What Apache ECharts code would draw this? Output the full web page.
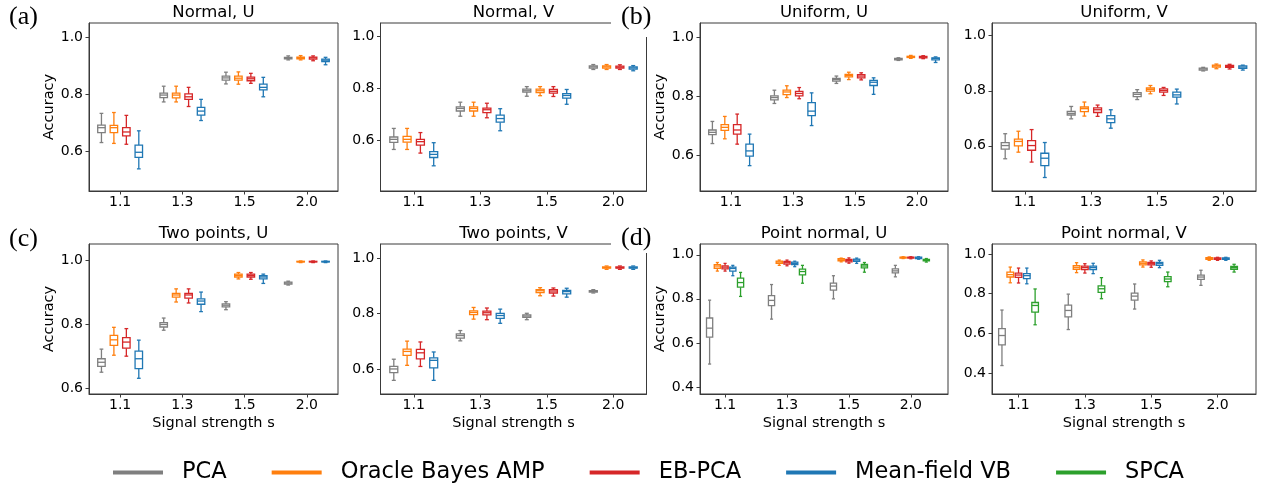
<!DOCTYPE html>
<html>
<head>
<meta charset="utf-8">
<script src="https://cdn.jsdelivr.net/npm/echarts@6/dist/echarts.min.js"></script>
<style>
  html, body { margin: 0; padding: 0; background: #fff; }
  #chart { width: 1261px; height: 488px; }
</style>
</head>
<body>
<div id="chart"></div>
<script>
const categories = ['1.1', '1.3', '1.5', '2.0']
const methods = ['PCA', 'Oracle Bayes AMP', 'EB-PCA', 'Mean-field VB', 'SPCA']
const colors = ['#7f7f7f', '#ff7f0e', '#d62728', '#1f77b4', '#2ca02c']

// box = [lower whisker, q1, median, q3, upper whisker], one box per s, one row per method
const normalU = [
  [[0.632, 0.667, 0.684, 0.693, 0.734], [0.774, 0.789, 0.798, 0.805, 0.829], [0.837, 0.850, 0.858, 0.864, 0.878], [0.921, 0.925, 0.928, 0.930, 0.935]],
  [[0.629, 0.667, 0.684, 0.692, 0.737], [0.774, 0.788, 0.798, 0.805, 0.829], [0.836, 0.850, 0.857, 0.864, 0.879], [0.921, 0.925, 0.929, 0.931, 0.936]],
  [[0.626, 0.655, 0.669, 0.684, 0.727], [0.758, 0.783, 0.792, 0.802, 0.825], [0.839, 0.848, 0.855, 0.861, 0.874], [0.918, 0.924, 0.928, 0.931, 0.935]],
  [[0.540, 0.580, 0.598, 0.623, 0.673], [0.709, 0.728, 0.742, 0.755, 0.783], [0.792, 0.816, 0.825, 0.836, 0.860], [0.904, 0.915, 0.920, 0.924, 0.930]]
]
const normalV = [
  [[0.564, 0.591, 0.603, 0.612, 0.645], [0.692, 0.712, 0.722, 0.728, 0.746], [0.769, 0.785, 0.790, 0.796, 0.806], [0.872, 0.877, 0.882, 0.886, 0.891]],
  [[0.564, 0.592, 0.603, 0.614, 0.645], [0.692, 0.712, 0.722, 0.728, 0.746], [0.771, 0.783, 0.790, 0.796, 0.806], [0.872, 0.877, 0.882, 0.886, 0.891]],
  [[0.550, 0.581, 0.594, 0.603, 0.629], [0.686, 0.706, 0.717, 0.723, 0.742], [0.768, 0.781, 0.788, 0.795, 0.806], [0.872, 0.877, 0.881, 0.885, 0.890]],
  [[0.501, 0.533, 0.545, 0.556, 0.590], [0.636, 0.669, 0.683, 0.696, 0.721], [0.738, 0.762, 0.772, 0.779, 0.795], [0.867, 0.873, 0.878, 0.882, 0.887]]
]
const uniformU = [
  [[0.641, 0.671, 0.679, 0.687, 0.716], [0.777, 0.789, 0.797, 0.803, 0.822], [0.845, 0.853, 0.858, 0.862, 0.870], [0.923, 0.925, 0.927, 0.930, 0.932]],
  [[0.657, 0.686, 0.696, 0.705, 0.733], [0.797, 0.807, 0.816, 0.822, 0.837], [0.858, 0.867, 0.872, 0.876, 0.883], [0.930, 0.933, 0.935, 0.937, 0.940]],
  [[0.639, 0.673, 0.687, 0.705, 0.741], [0.793, 0.803, 0.811, 0.818, 0.831], [0.857, 0.864, 0.870, 0.875, 0.881], [0.929, 0.932, 0.934, 0.937, 0.939]],
  [[0.566, 0.598, 0.616, 0.639, 0.673], [0.702, 0.736, 0.751, 0.780, 0.813], [0.808, 0.838, 0.849, 0.855, 0.864], [0.916, 0.925, 0.930, 0.932, 0.935]]
]
const uniformV = [
  [[0.553, 0.588, 0.601, 0.612, 0.644], [0.698, 0.712, 0.718, 0.725, 0.743], [0.768, 0.779, 0.787, 0.793, 0.804], [0.872, 0.875, 0.879, 0.882, 0.885]],
  [[0.577, 0.600, 0.616, 0.624, 0.653], [0.708, 0.724, 0.735, 0.741, 0.759], [0.789, 0.799, 0.805, 0.810, 0.819], [0.880, 0.886, 0.890, 0.893, 0.897]],
  [[0.541, 0.584, 0.601, 0.619, 0.659], [0.707, 0.721, 0.731, 0.738, 0.748], [0.783, 0.795, 0.801, 0.807, 0.812], [0.879, 0.885, 0.888, 0.892, 0.896]],
  [[0.485, 0.528, 0.555, 0.573, 0.612], [0.664, 0.684, 0.698, 0.710, 0.731], [0.752, 0.777, 0.785, 0.795, 0.806], [0.875, 0.881, 0.886, 0.890, 0.893]]
]
const twoPointsU = [
  [[0.650, 0.668, 0.681, 0.692, 0.722], [0.781, 0.791, 0.799, 0.805, 0.819], [0.845, 0.854, 0.859, 0.863, 0.870], [0.922, 0.925, 0.928, 0.931, 0.934]],
  [[0.703, 0.734, 0.751, 0.765, 0.790], [0.869, 0.884, 0.891, 0.896, 0.910], [0.941, 0.947, 0.952, 0.956, 0.961], [0.992, 0.994, 0.995, 0.996, 0.997]],
  [[0.700, 0.725, 0.744, 0.758, 0.786], [0.866, 0.881, 0.891, 0.896, 0.910], [0.940, 0.947, 0.952, 0.956, 0.961], [0.992, 0.994, 0.995, 0.996, 0.997]],
  [[0.631, 0.661, 0.692, 0.716, 0.750], [0.839, 0.862, 0.872, 0.879, 0.900], [0.927, 0.941, 0.947, 0.951, 0.956], [0.992, 0.994, 0.995, 0.996, 0.997]]
]
const twoPointsV = [
  [[0.560, 0.588, 0.601, 0.610, 0.636], [0.702, 0.712, 0.721, 0.727, 0.739], [0.778, 0.786, 0.791, 0.795, 0.801], [0.874, 0.877, 0.880, 0.882, 0.886]],
  [[0.614, 0.650, 0.664, 0.672, 0.701], [0.780, 0.796, 0.804, 0.810, 0.822], [0.864, 0.875, 0.882, 0.886, 0.893], [0.959, 0.963, 0.965, 0.968, 0.971]],
  [[0.610, 0.637, 0.659, 0.671, 0.698], [0.778, 0.795, 0.803, 0.809, 0.820], [0.863, 0.874, 0.881, 0.886, 0.892], [0.959, 0.963, 0.965, 0.968, 0.971]],
  [[0.560, 0.605, 0.632, 0.641, 0.662], [0.765, 0.783, 0.793, 0.801, 0.816], [0.859, 0.871, 0.879, 0.883, 0.891], [0.959, 0.963, 0.965, 0.968, 0.971]]
]
const pointNormalU = [
  [[0.504, 0.626, 0.667, 0.713, 0.794], [0.708, 0.769, 0.793, 0.815, 0.865], [0.800, 0.840, 0.858, 0.871, 0.905], [0.900, 0.918, 0.927, 0.936, 0.952]],
  [[0.926, 0.939, 0.949, 0.955, 0.965], [0.952, 0.961, 0.967, 0.971, 0.976], [0.968, 0.973, 0.977, 0.982, 0.985], [0.983, 0.985, 0.988, 0.989, 0.991]],
  [[0.926, 0.936, 0.944, 0.950, 0.961], [0.950, 0.958, 0.964, 0.970, 0.976], [0.962, 0.968, 0.974, 0.979, 0.986], [0.982, 0.985, 0.988, 0.989, 0.991]],
  [[0.905, 0.926, 0.938, 0.944, 0.952], [0.946, 0.955, 0.961, 0.967, 0.971], [0.961, 0.970, 0.976, 0.980, 0.985], [0.980, 0.983, 0.986, 0.989, 0.991]],
  [[0.811, 0.853, 0.874, 0.894, 0.920], [0.871, 0.909, 0.924, 0.935, 0.952], [0.921, 0.941, 0.949, 0.956, 0.965], [0.967, 0.973, 0.976, 0.979, 0.983]]
]
const pointNormalV = [
  [[0.439, 0.543, 0.590, 0.625, 0.718], [0.620, 0.684, 0.716, 0.743, 0.798], [0.723, 0.768, 0.788, 0.803, 0.849], [0.842, 0.872, 0.884, 0.894, 0.918]],
  [[0.855, 0.884, 0.896, 0.909, 0.934], [0.906, 0.923, 0.933, 0.941, 0.956], [0.934, 0.945, 0.953, 0.960, 0.970], [0.968, 0.973, 0.978, 0.982, 0.985]],
  [[0.854, 0.882, 0.894, 0.904, 0.929], [0.904, 0.921, 0.931, 0.939, 0.951], [0.933, 0.945, 0.951, 0.958, 0.965], [0.968, 0.973, 0.976, 0.980, 0.983]],
  [[0.850, 0.876, 0.891, 0.901, 0.929], [0.901, 0.921, 0.931, 0.939, 0.953], [0.931, 0.943, 0.951, 0.958, 0.968], [0.968, 0.973, 0.976, 0.980, 0.983]],
  [[0.644, 0.708, 0.741, 0.756, 0.824], [0.775, 0.807, 0.825, 0.840, 0.881], [0.835, 0.861, 0.874, 0.886, 0.909], [0.909, 0.923, 0.931, 0.938, 0.948]]
]

// 画布布局：每个子图的位置和坐标范围
const FONT = '"DejaVu Sans", sans-serif'
const AXIS_COLOR = '#3a3a3a'
const panels = [
  { title: 'Normal, U', data: normalU, rect: [89, 23, 249, 168], x: [0.5, 4.5], y: [0.4626, 1.05], ticks: [0.6, 0.8, 1.0], yName: true, xName: false },
  { title: 'Normal, V', data: normalV, rect: [380.5, 23, 266, 168], x: [0.5, 4.5], y: [0.404, 1.051], ticks: [0.6, 0.8, 1.0], yName: false, xName: false },
  { title: 'Uniform, U', data: uniformU, rect: [700, 23, 248, 168], x: [0.5, 4.5], y: [0.48, 1.05], ticks: [0.6, 0.8, 1.0], yName: true, xName: false },
  { title: 'Uniform, V', data: uniformV, rect: [992, 23, 264, 168], x: [0.5, 4.5], y: [0.436, 1.046], ticks: [0.6, 0.8, 1.0], yName: false, xName: false },
  { title: 'Two points, U', data: twoPointsU, rect: [89, 244, 249, 150], x: [0.5, 4.5], y: [0.582, 1.05], ticks: [0.6, 0.8, 1.0], yName: true, xName: true },
  { title: 'Two points, V', data: twoPointsV, rect: [380.5, 244, 266, 150], x: [0.5, 4.5], y: [0.511, 1.05], ticks: [0.6, 0.8, 1.0], yName: false, xName: true },
  { title: 'Point normal, U', data: pointNormalU, rect: [700, 244, 248, 150], x: [0.595, 4.6], y: [0.368, 1.049], ticks: [0.4, 0.6, 0.8, 1.0], yName: true, xName: true },
  { title: 'Point normal, V', data: pointNormalV, rect: [992, 244, 264, 150], x: [0.6, 4.58], y: [0.296, 1.05], ticks: [0.4, 0.6, 0.8, 1.0], yName: false, xName: true }
]

// 画一个箱线图：须线、须端、箱体、中位数
const makeRender = (offset, boxW, color) => (params, api) => {
  const x = api.value(0) + offset
  const pt = (v) => api.coord([x, v])
  const lo = pt(api.value(1))
  const q1 = pt(api.value(2))
  const md = pt(api.value(3))
  const q3 = pt(api.value(4))
  const hi = pt(api.value(5))
  const w = api.size([boxW, 0])[0]
  const cx = lo[0]
  const st = { stroke: color, lineWidth: 1.3 }
  return {
    type: 'group',
    children: [
      { type: 'line', shape: { x1: cx, y1: lo[1], x2: cx, y2: q1[1] }, style: st },
      { type: 'line', shape: { x1: cx, y1: q3[1], x2: cx, y2: hi[1] }, style: st },
      { type: 'line', shape: { x1: cx - w / 4, y1: lo[1], x2: cx + w / 4, y2: lo[1] }, style: st },
      { type: 'line', shape: { x1: cx - w / 4, y1: hi[1], x2: cx + w / 4, y2: hi[1] }, style: st },
      { type: 'rect', shape: { x: cx - w / 2, y: q3[1], width: w, height: q1[1] - q3[1] }, style: { stroke: color, lineWidth: 1.3, fill: '#fff' } },
      { type: 'line', shape: { x1: cx - w / 2, y1: md[1], x2: cx + w / 2, y2: md[1] }, style: st }
    ]
  }
}

const grids = []
const xAxes = []
const yAxes = []
const titles = []
const series = []

panels.forEach((p, k) => {
  const [left, top, width, height] = p.rect
  grids.push({ left, top, width, height, show: true, borderColor: AXIS_COLOR, borderWidth: 1, backgroundColor: 'transparent' })
  titles.push({
    text: p.title,
    left: left + width / 2,
    top: top - 10,
    textAlign: 'center',
    textVerticalAlign: 'middle',
    padding: 0,
    textStyle: { fontSize: 16.5, fontWeight: 'normal', color: '#000', fontFamily: FONT }
  })
  xAxes.push({
    gridIndex: k,
    type: 'value',
    min: p.x[0],
    max: p.x[1],
    name: p.xName ? 'Signal strength s' : '',
    nameLocation: 'middle',
    nameGap: 22,
    nameTextStyle: { fontSize: 14.5, color: '#000', fontFamily: FONT },
    axisLine: { show: true, lineStyle: { color: AXIS_COLOR, width: 1 } },
    axisTick: { show: true, length: 3.5, customValues: [1, 2, 3, 4], lineStyle: { color: AXIS_COLOR, width: 1 } },
    axisLabel: {
      customValues: [1, 2, 3, 4],
      formatter: (v) => categories[Math.round(v) - 1],
      fontSize: 14,
      color: '#000',
      fontFamily: FONT,
      margin: 4
    },
    splitLine: { show: false }
  })
  yAxes.push({
    gridIndex: k,
    type: 'value',
    min: p.y[0],
    max: p.y[1],
    name: p.yName ? 'Accuracy' : '',
    nameLocation: 'middle',
    nameGap: 32,
    nameTextStyle: { fontSize: 14.5, color: '#000', fontFamily: FONT },
    axisLine: { show: true, lineStyle: { color: AXIS_COLOR, width: 1 } },
    axisTick: { show: true, length: 3.5, customValues: p.ticks, lineStyle: { color: AXIS_COLOR, width: 1 } },
    axisLabel: {
      customValues: p.ticks,
      formatter: (v) => v.toFixed(1),
      fontSize: 14,
      color: '#000',
      fontFamily: FONT,
      margin: 6
    },
    splitLine: { show: false }
  })
  const n = p.data.length
  const offsets = n === 4 ? [-0.3, -0.1, 0.1, 0.3] : [-0.25, -0.125, 0, 0.125, 0.25]
  const boxW = n === 4 ? 0.12 : 0.1
  p.data.forEach((boxes, m) => {
    series.push({
      type: 'custom',
      name: methods[m],
      xAxisIndex: k,
      yAxisIndex: k,
      silent: true,
      clip: true,
      itemStyle: { color: colors[m] },
      encode: { x: 0, y: [1, 2, 3, 4, 5] },
      renderItem: makeRender(offsets[m], boxW, colors[m]),
      data: boxes.map((b, i) => [i + 1].concat(b))
    })
  })
})

// 子图字母 (a)-(d)，白底遮住相邻子图的角
const letters = [
  { t: '(a)', x: 9, y: 4 },
  { t: '(b)', x: 621, y: 4 },
  { t: '(c)', x: 9, y: 226 },
  { t: '(d)', x: 621, y: 225 }
]
const graphic = [
  { type: 'rect', shape: { x: 611, y: 0, width: 48, height: 37 }, style: { fill: '#fff' }, z: 100 },
  { type: 'rect', shape: { x: 611, y: 222, width: 48, height: 31 }, style: { fill: '#fff' }, z: 100 }
].concat(letters.map((l) => ({
  type: 'text',
  x: l.x,
  y: l.y,
  z: 101,
  style: { text: l.t, font: '26px "Liberation Serif", serif', fill: '#000' }
})))

const myChart = echarts.init(document.getElementById('chart'), null, { renderer: 'canvas' })
myChart.setOption({
  backgroundColor: '#fff',
  animation: false,
  title: titles,
  grid: grids,
  xAxis: xAxes,
  yAxis: yAxes,
  legend: {
    left: 113,
    top: 461,
    padding: 0,
    itemWidth: 50,
    itemHeight: 4,
    itemGap: 45,
    selectedMode: false,
    textStyle: { fontSize: 22.5, color: '#000', fontFamily: FONT, padding: [0, 0, 0, 14] },
    data: methods.map((m, i) => ({ name: m, icon: 'rect', itemStyle: { color: colors[i] } }))
  },
  graphic,
  series
})
</script>
</body>
</html>
